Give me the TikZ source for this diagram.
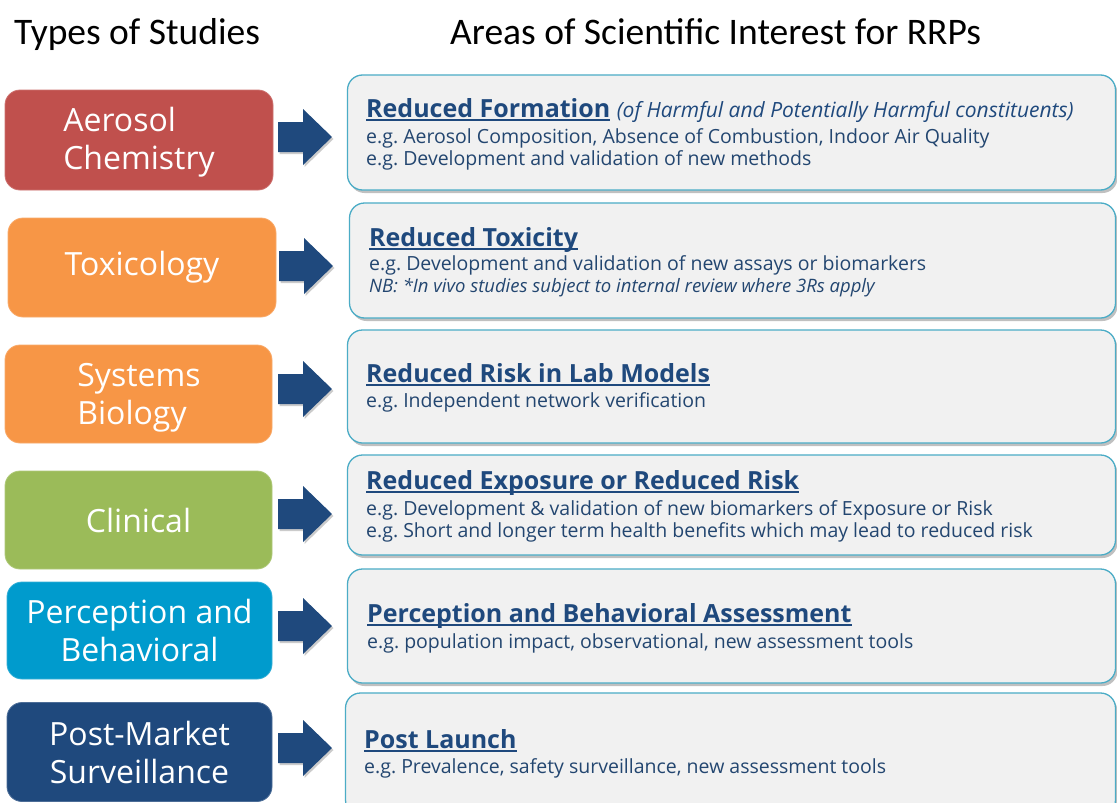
\documentclass[tikz,border=0pt]{standalone}
\usepackage{fontspec}
\setmainfont{Open Sans}
\newfontfamily\hdrf{Carlito}
\newfontfamily\condf{Open Sans}
\newcommand\myul[1]{\setbox0\hbox{#1}\rlap{\rule[-3.5pt]{\wd0}{1.4pt}}\box0}
\usetikzlibrary{shadows}
\definecolor{aero}{HTML}{C0504D}
\definecolor{tox}{HTML}{F79646}
\definecolor{clin}{HTML}{9BBB59}
\definecolor{perc}{HTML}{009BCD}
\definecolor{navy}{HTML}{1F497D}
\definecolor{areafill}{HTML}{F1F1F1}
\definecolor{areadraw}{HTML}{4BACC6}
\definecolor{titletext}{HTML}{1F497D}
\definecolor{bodytext}{HTML}{234670}
\tikzset{
  x=1pt, y=-1pt,
  studybox/.style={rounded corners=15pt, fill=#1, draw=#1!80!white, line width=0.8pt,
    text=white, inner sep=0pt, font=\fontsize{32}{38}\selectfont},
  studytext/.style={text=white, align=left, inner sep=0pt, font=\fontsize{32}{38}\selectfont},
  areabox/.style={rounded corners=15pt, fill=areafill, draw=areadraw, line width=1.3pt,
    drop shadow={shadow xshift=2pt, shadow yshift=-3pt, opacity=0.35, fill=black!70}},
  titleline/.style={anchor=base west, inner sep=0pt, text=titletext,
    font=\condf\bfseries\fontsize{25}{29}\selectfont},
  bodyline/.style={anchor=base west, inner sep=0pt, text=bodytext,
    font=\condf\fontsize{19.5}{23}\selectfont},
  header/.style={anchor=base west, inner sep=0pt, font=\hdrf\fontsize{37.5}{42}\selectfont},
  bigarrow/.pic={
    \fill[black!40, opacity=0.5, shift={(1.5,2)}] (-27,-15) -- (-2,-15) -- (-2,-28) -- (27,0) -- (-2,28) -- (-2,15) -- (-27,15) -- cycle;
    \fill[navy] (-27,-15) -- (-2,-15) -- (-2,-28) -- (27,0) -- (-2,28) -- (-2,15) -- (-27,15) -- cycle;
  }
}
\begin{document}
\frenchspacing
\begin{tikzpicture}
\useasboundingbox (0,0) rectangle (1117,803);
\fill[white] (0,0) rectangle (1117,803);

% headers
\node[header] (h1) at (14,45) {Types of Studies};
\node[header] (h2) at (450,45) {Areas of Scientific Interest for RRPs};

% study boxes
\node[studybox=aero, minimum width=268pt, minimum height=100pt] (s1) at (139,140) {};
\node[studytext] (t1) at (139,142) {Aerosol\\Chemistry};
\node[studybox=tox, minimum width=268pt, minimum height=99pt, align=center] (s2) at (142,267.5) {Toxicology};
\node[studybox=tox, minimum width=267pt, minimum height=98pt] (s3) at (138.5,394) {};
\node[studytext] (t3) at (139,398) {Systems\\Biology};
\node[studybox=clin, minimum width=267pt, minimum height=98pt, align=center] (s4) at (138.5,520) {Clinical};
\node[studybox=perc, minimum width=265pt, minimum height=97pt, align=center] (s5) at (139.5,630.5) {Perception and\\Behavioral};
\node[studybox=navy, minimum width=265pt, minimum height=99pt, align=center] (s6) at (139.5,752) {Post-Market\\Surveillance};

% arrows
\coordinate (c1) at (305,137);
\coordinate (c2) at (306,266);
\coordinate (c3) at (305,389);
\coordinate (c4) at (305,514);
\coordinate (c5) at (305,626);
\coordinate (c6) at (305,748);
\foreach \c in {c1,c2,c3,c4,c5,c6} \pic at (\c) {bigarrow};

% area boxes
\begin{scope}
\clip (0,0) rectangle (1117,803);
\node[areabox, minimum width=768pt, minimum height=115pt] (a1) at (731.5,132.5) {};
\node[areabox, minimum width=766pt, minimum height=115pt] (a2) at (732.5,260.5) {};
\node[areabox, minimum width=768pt, minimum height=113pt] (a3) at (731.5,386.5) {};
\node[areabox, minimum width=768pt, minimum height=100pt] (a4) at (731.5,505) {};
\node[areabox, minimum width=768pt, minimum height=114pt] (a5) at (731.5,626) {};
\node[areabox, minimum width=770pt, minimum height=122pt] (a6) at (730.5,754) {};
\end{scope}

% area texts
\node[titleline] (r1t) at (366,117) {\myul{Reduced Formation}\ \mdseries\itshape\fontsize{21}{24}\selectfont(of Harmful and Potentially Harmful constituents)};
\node[bodyline] (r1a) at (366,143) {e.g. Aerosol Composition, Absence of Combustion, Indoor Air Quality};
\node[bodyline] (r1b) at (366,165) {e.g. Development and validation of new methods};

\node[titleline] (r2t) at (369,246) {\myul{Reduced Toxicity}};
\node[bodyline] (r2a) at (369,270) {e.g. Development and validation of new assays or biomarkers};
\node[bodyline, font=\condf\itshape\fontsize{18.5}{21}\selectfont] (r2b) at (369,292) {NB: *In vivo studies subject to internal review where 3Rs apply};

\node[titleline] (r3t) at (366,382) {\myul{Reduced Risk in Lab Models}};
\node[bodyline] (r3a) at (366,407) {e.g. Independent network verification};

\node[titleline] (r4t) at (366,489) {\myul{Reduced Exposure or Reduced Risk}};
\node[bodyline] (r4a) at (366,515) {e.g. Development \& validation of new biomarkers of Exposure or Risk};
\node[bodyline] (r4b) at (366,537) {e.g. Short and longer term health benefits which may lead to reduced risk};

\node[titleline] (r5t) at (367,622) {\myul{Perception and Behavioral Assessment}};
\node[bodyline] (r5a) at (367,648) {e.g. population impact, observational, new assessment tools};

\node[titleline] (r6t) at (364,748) {\myul{Post Launch}};
\node[bodyline] (r6a) at (364,773) {e.g. Prevalence, safety surveillance, new assessment tools};
\end{tikzpicture}
\end{document}
